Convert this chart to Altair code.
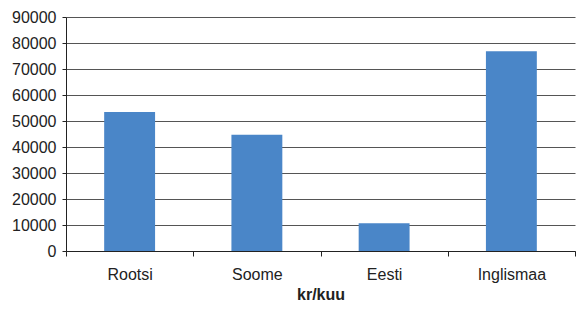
import altair as alt
import pandas as pd

categories = ["Rootsi", "Soome", "Eesti", "Inglismaa"]
values = [53500, 44700, 10700, 76800]

df = pd.DataFrame({"maa": categories, "kr": values})

FONT = "Liberation Sans"

chart = alt.Chart(df).mark_bar(
    color="#4A86C8", width=alt.RelativeBandSize(0.4)
).encode(
    x=alt.X(
        "maa:N",
        sort=categories,
        scale=alt.Scale(paddingInner=0, paddingOuter=0),
        axis=alt.Axis(
            title="kr/kuu",
            titleFont=FONT,
            titleFontSize=16,
            titleFontWeight="bold",
            titleColor="#222222",
            titlePadding=4,
            labelFont=FONT,
            labelFontSize=16,
            labelColor="#222222",
            labelAngle=0,
            labelPadding=10,
            tickBand="extent",
            tickSize=5,
            tickColor="#222222",
            domainColor="#222222",
            grid=False,
        ),
    ),
    y=alt.Y(
        "kr:Q",
        scale=alt.Scale(domain=[0, 90000], nice=False),
        axis=alt.Axis(
            title=None,
            values=list(range(0, 90001, 10000)),
            format="d",
            labelFont=FONT,
            labelFontSize=16,
            labelColor="#222222",
            labelPadding=6,
            tickSize=4,
            tickColor="#222222",
            domainColor="#222222",
            gridColor="#555555",
            gridOpacity=1,
        ),
    ),
).properties(
    width=568,
    height=294,
    padding={"left": 3, "top": 1, "right": 0, "bottom": 0},
    autosize=alt.AutoSizeParams(type="fit", contains="padding"),
).configure_view(stroke=None)

chart.save("out.html", embed_options={"renderer": "svg", "actions": False})
